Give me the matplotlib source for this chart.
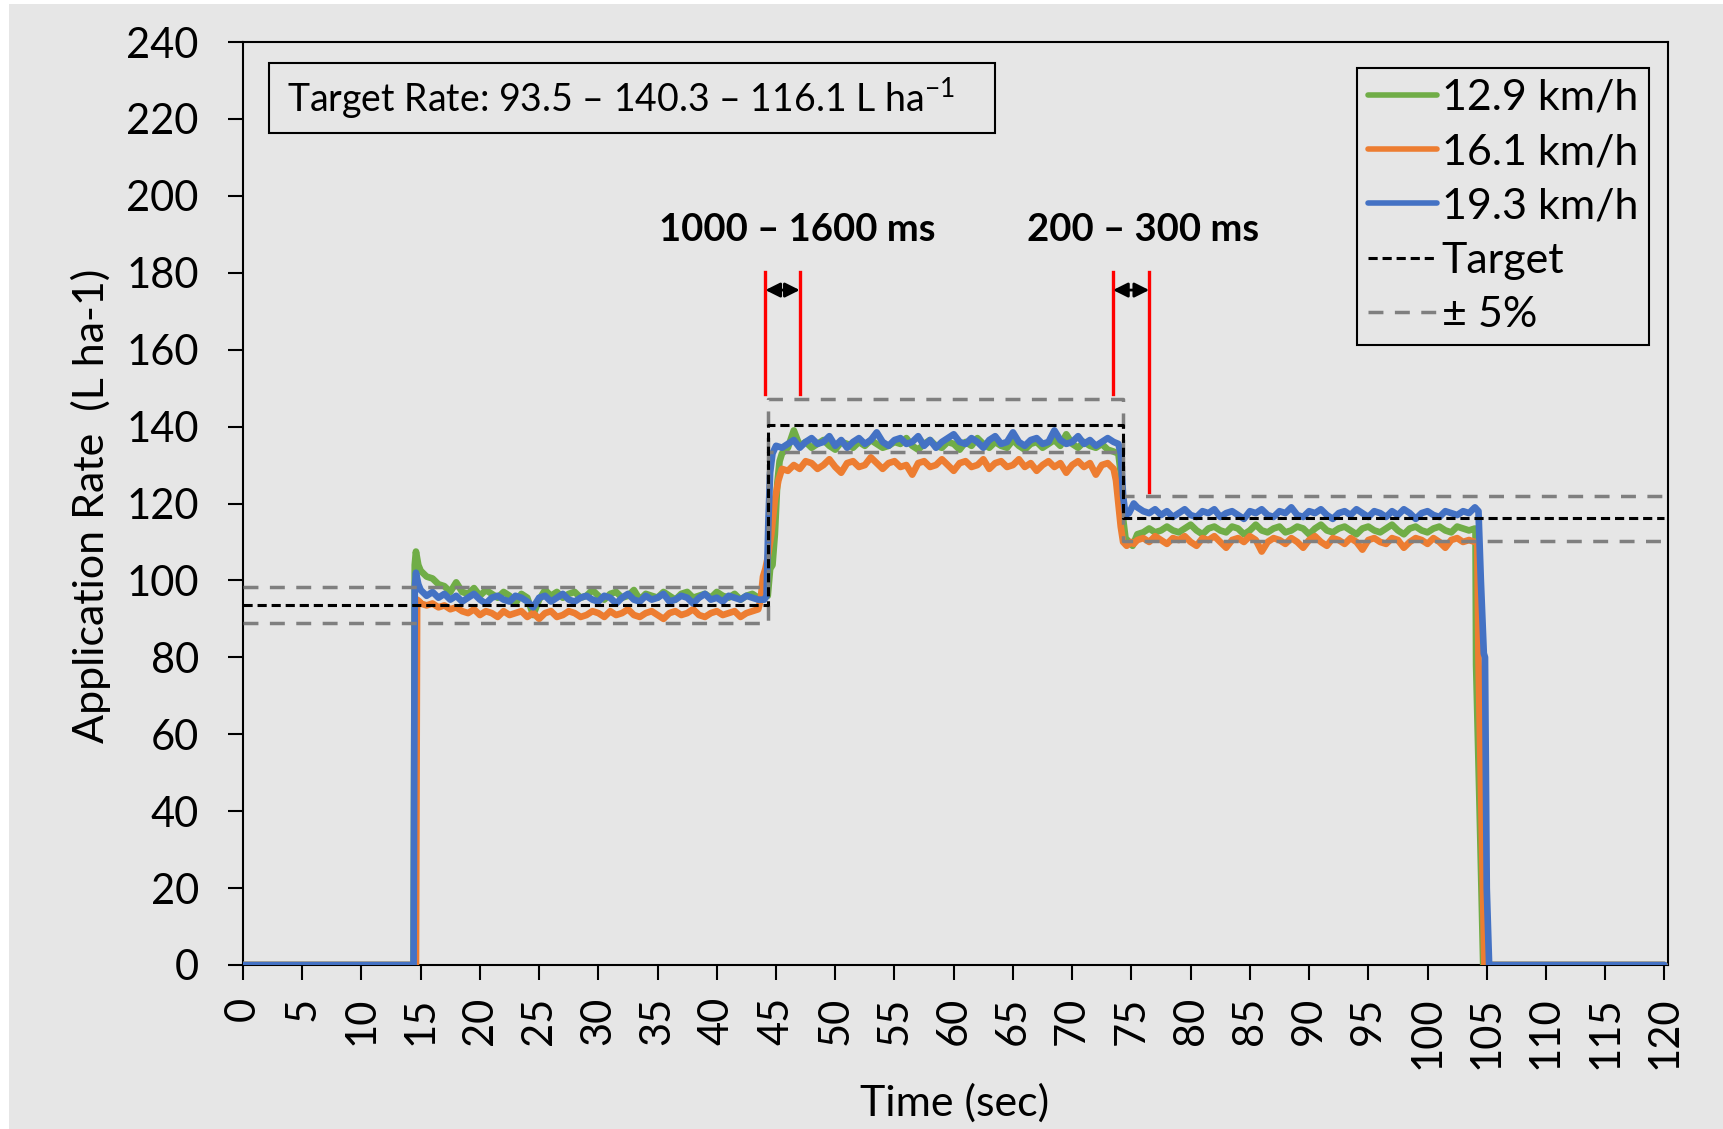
import matplotlib
matplotlib.use("Agg")
import matplotlib.pyplot as plt
from matplotlib.patches import Rectangle
import numpy as np

plt.rcParams['font.family'] = ['Lato', 'DejaVu Sans']
plt.rcParams['mathtext.fontset'] = 'custom'
plt.rcParams['mathtext.rm'] = 'Lato'
plt.rcParams['mathtext.it'] = 'Lato'

# ---------------- data ----------------
series_labels = ['12.9 km/h', '16.1 km/h', '19.3 km/h']
series_colors = ['#70AD47', '#ED7D31', '#4472C4']

# plateau sample times (0.5 s logging)
p1_t = np.arange(15.0, 44.0, 0.5)
p2_t = np.arange(46.0, 74.0, 0.5)
p3_t = np.arange(75.5, 104.5, 0.5)

# 12.9 km/h
green_start = [(0, 0), (14.4, 0), (14.5, 104), (14.6, 107.5), (14.8, 104)]
green_p1 = [102.5, 101.0, 100.5, 99.0, 98.5, 97.0, 99.5, 97.0, 96.5, 98.0,
            96.0, 97.5, 96.5, 95.5, 97.0, 96.0, 94.0, 96.5, 95.5, 91.0,
            95.0, 97.5, 96.0, 97.0, 95.5, 96.5, 97.0, 95.5, 96.0, 97.5,
            96.0, 95.0, 96.5, 97.0, 95.5, 96.0, 97.5, 95.0, 96.5, 96.0,
            95.5, 97.0, 96.0, 95.0, 96.5, 97.0, 95.5, 96.0, 96.5, 95.5,
            97.0, 96.0, 95.5, 96.5, 95.0, 96.0, 96.5, 95.5]
green_rise = [(44.0, 95.5), (44.3, 96), (44.5, 103), (44.7, 104), (44.9, 112),
              (45.1, 125), (45.3, 131), (45.5, 133)]
green_p2 = [134.5, 139.0, 135.0, 136.0, 134.5, 135.5, 136.5, 135.0, 134.0, 136.0,
            135.5, 134.5, 136.0, 135.0, 136.5, 135.5, 134.5, 135.0, 136.0, 135.5,
            137.0, 135.0, 134.0, 135.5, 136.5, 135.0, 134.5, 136.0, 135.5, 134.0,
            136.0, 135.0, 137.0, 135.5, 134.5, 136.0, 135.0, 134.5, 136.5, 135.0,
            134.0, 135.5, 136.0, 134.5, 135.5, 136.5, 135.0, 138.0, 135.5, 134.5,
            136.0, 135.0, 134.5, 135.5, 134.0, 133.5]
green_fall = [(73.9, 133), (74.1, 128), (74.3, 116), (74.5, 111), (74.8, 110),
              (75.1, 109), (75.3, 110.5)]
green_p3 = [112.0, 112.5, 113.5, 112.5, 113.0, 114.0, 113.0, 112.5, 113.5, 114.5,
            113.0, 112.0, 113.5, 114.0, 113.0, 112.5, 114.0, 113.5, 112.0, 113.0,
            114.5, 113.0, 112.5, 113.5, 114.0, 112.5, 113.0, 114.0, 113.5, 112.0,
            113.5, 114.5, 113.0, 112.5, 113.5, 114.0, 113.0, 112.0, 113.5, 114.0,
            113.0, 112.5, 113.5, 114.5, 113.0, 112.0, 113.5, 114.0, 113.0, 112.5,
            113.5, 114.0, 113.0, 112.5, 114.0, 113.5, 113.0, 113.5]
green_end = [(104.05, 113), (104.1, 78), (104.4, 40), (104.7, 0), (120, 0)]

# 16.1 km/h
orange_start = [(0, 0), (14.6, 0), (14.7, 95), (14.9, 94.5)]
orange_p1 = [94.0, 93.5, 94.0, 93.0, 93.5, 92.5, 93.0, 92.0, 91.5, 92.5,
             91.0, 92.0, 91.5, 90.5, 92.0, 91.0, 91.5, 92.0, 90.5, 91.5,
             90.0, 91.5, 92.0, 90.5, 91.0, 92.0, 91.5, 90.5, 91.0, 92.0,
             91.5, 90.5, 92.0, 91.0, 91.5, 92.5, 91.0, 90.5, 91.5, 92.0,
             91.0, 90.0, 91.5, 92.0, 91.0, 91.5, 92.5, 91.0, 90.5, 91.5,
             92.0, 91.0, 91.5, 92.0, 90.5, 91.5, 92.0, 92.5]
orange_rise = [(43.7, 95), (43.9, 101), (44.1, 103), (44.3, 106), (44.6, 112),
               (44.9, 121), (45.2, 126), (45.5, 129)]
orange_p2 = [128.5, 130.0, 129.0, 131.0, 130.5, 129.0, 130.0, 131.5, 129.5, 128.0,
             130.5, 131.0, 129.5, 130.0, 132.0, 130.5, 129.0, 130.5, 131.0, 129.5,
             130.0, 127.5, 130.5, 131.0, 129.5, 130.0, 131.5, 130.0, 128.5, 130.5,
             131.0, 129.5, 130.0, 131.5, 129.0, 130.5, 131.0, 129.5, 130.0, 131.5,
             129.5, 130.5, 128.5, 130.0, 131.0, 129.5, 130.5, 128.0, 130.0, 131.0,
             129.5, 130.5, 127.5, 130.0, 130.5, 129.0]
orange_fall = [(73.7, 126), (73.9, 120), (74.1, 114), (74.3, 110), (74.6, 109),
               (75.0, 110), (75.2, 109.5)]
orange_p3 = [110.5, 111.0, 110.0, 111.5, 110.5, 109.5, 111.0, 110.5, 111.5, 110.0,
             109.0, 111.0, 110.5, 111.5, 110.0, 108.5, 110.5, 111.0, 110.0, 111.5,
             110.5, 107.5, 110.0, 111.0, 110.5, 109.5, 111.0, 110.0, 108.5, 110.5,
             111.5, 110.0, 109.0, 111.0, 110.5, 109.5, 111.0, 110.0, 108.0, 110.5,
             111.0, 110.0, 109.5, 111.0, 110.5, 108.5, 110.0, 111.0, 110.5, 109.5,
             111.0, 110.0, 108.5, 110.5, 111.0, 110.0, 110.5, 110.0]
orange_end = [(104.2, 110), (104.3, 80), (104.8, 0), (120, 0)]

# 19.3 km/h
blue_start = [(0, 0), (14.4, 0), (14.5, 98), (14.6, 102), (14.8, 99)]
blue_p1 = [97.5, 96.0, 97.0, 95.5, 96.5, 95.0, 96.0, 94.5, 95.5, 96.5,
           95.0, 94.0, 95.5, 96.0, 95.0, 94.5, 96.0, 95.5, 94.5, 93.0,
           95.5, 96.0, 94.5, 95.5, 96.5, 95.0, 94.5, 95.5, 96.0, 95.0,
           94.5, 96.0, 95.5, 94.0, 95.5, 96.5, 95.0, 94.5, 96.0, 95.0,
           95.5, 96.5, 94.5, 95.0, 96.0, 95.5, 94.0, 95.5, 96.5, 95.0,
           95.5, 94.5, 96.0, 95.5, 95.0, 96.0, 95.5, 95.0]
blue_rise = [(44.0, 95), (44.2, 96), (44.35, 115), (44.5, 128), (44.7, 133),
             (45.0, 135), (45.5, 134.5)]
blue_p2 = [135.5, 136.5, 134.5, 136.0, 137.0, 135.5, 136.0, 137.5, 135.0, 136.5,
           134.5, 136.0, 137.0, 135.5, 136.5, 138.5, 136.0, 135.0, 136.5, 137.0,
           135.5, 136.0, 137.5, 135.0, 136.5, 134.5, 136.0, 137.0, 138.0, 136.0,
           135.5, 137.0, 136.0, 134.5, 136.5, 137.5, 135.5, 136.0, 138.5, 136.0,
           135.0, 136.5, 137.0, 135.5, 136.0, 139.0, 136.5, 135.5, 136.0, 137.5,
           135.5, 136.5, 135.0, 136.0, 137.0, 136.0]
blue_fall = [(73.9, 135.5), (74.1, 133), (74.3, 122), (74.5, 117), (74.8, 117.5),
             (75.2, 120)]
blue_p3 = [119.0, 118.0, 117.5, 118.5, 117.0, 118.0, 116.5, 117.5, 118.5, 117.0,
           116.5, 118.0, 117.5, 118.5, 116.5, 117.5, 118.0, 117.0, 116.0, 118.0,
           117.5, 118.5, 117.0, 116.5, 118.0, 117.5, 119.0, 117.0, 116.5, 118.0,
           117.5, 118.5, 117.0, 116.0, 117.5, 118.0, 117.0, 118.5, 117.5, 116.5,
           118.0, 117.5, 116.5, 118.0, 117.0, 118.5, 117.5, 116.0, 117.5, 118.0,
           117.0, 116.5, 118.0, 117.5, 117.0, 118.0, 117.5, 119.0]
blue_end = [(104.3, 118), (104.5, 100), (104.75, 81), (104.85, 80), (105.0, 20),
            (105.2, 0), (120, 0)]

# target and +/-5% band
target_t = [0, 44.3, 74.3, 120]
target_v = [93.5, 140.3, 116.1, 116.1]
upper_v = [98.2, 147.3, 121.9, 121.9]
lower_v = [88.8, 133.3, 110.3, 110.3]

# response-time markers
marker_t = [44.1, 47.0, 73.45, 76.5]
marker_bottom = [148.5, 148.5, 148.5, 123.1]
marker_top = 180.3
arrow_y = 175.5
delay_labels = ['1000 \u2013 1600 ms', '200 \u2013 300 ms']
delay_label_x = [46.8, 76.0]
delay_label_y = 191.0

xticks = np.arange(0, 121, 5)
yticks = np.arange(0, 241, 20)


def build(start, p1, rise, p2, fall, p3, end):
    t = ([a for a, _ in start] + list(p1_t) + [a for a, _ in rise] + list(p2_t)
         + [a for a, _ in fall] + list(p3_t) + [a for a, _ in end])
    v = ([b for _, b in start] + p1 + [b for _, b in rise] + p2
         + [b for _, b in fall] + p3 + [b for _, b in end])
    return t, v


series = [
    build(green_start, green_p1, green_rise, green_p2, green_fall, green_p3, green_end),
    build(orange_start, orange_p1, orange_rise, orange_p2, orange_fall, orange_p3, orange_end),
    build(blue_start, blue_p1, blue_rise, blue_p2, blue_fall, blue_p3, blue_end),
]

# ---------------- figure ----------------
bg = '#E6E6E6'
fig = plt.figure(figsize=(17.24, 11.29), dpi=100)
fig.patch.set_facecolor('white')
fig.patches.append(Rectangle((9 / 1724, 0), 1, 1 - 4 / 1129, transform=fig.transFigure,
                             facecolor=bg, edgecolor='none', zorder=-10))

ax = fig.add_axes([243 / 1724, 1 - 965 / 1129, 1425 / 1724, 923 / 1129])
ax.set_facecolor(bg)

handles = []
for (t, v), lab, col in zip(series, series_labels, series_colors):
    h, = ax.plot(t, v, color=col, lw=4.8, label=lab, solid_joinstyle='round',
                 solid_capstyle='round', zorder=3)
    handles.append(h)

h_tgt, = ax.step(target_t, target_v, where='post', color='black', lw=2.2,
                 dashes=(3.0, 1.6), label='Target', zorder=5)
h_band, = ax.step(target_t, upper_v, where='post', color='#7F7F7F', lw=2.5,
                  dashes=(4.3, 3.3), label='\u00b1 5%', zorder=4)
ax.step(target_t, lower_v, where='post', color='#7F7F7F', lw=2.5,
        dashes=(4.3, 3.3), zorder=4)

# red markers and arrows
for xm, yb in zip(marker_t, marker_bottom):
    ax.plot([xm, xm], [yb, marker_top], color='#FF0000', lw=2.4, zorder=6)
for i in (0, 2):
    ax.annotate('', xy=(marker_t[i + 1], arrow_y), xytext=(marker_t[i], arrow_y),
                arrowprops=dict(arrowstyle='<|-|>', color='black', lw=2,
                                mutation_scale=22, shrinkA=0, shrinkB=0), zorder=7)
for lab, xl in zip(delay_labels, delay_label_x):
    ax.text(xl, delay_label_y, lab, ha='center', va='center', fontsize=27.5,
            fontweight='bold')

# target rate box
ax.add_patch(Rectangle((0.01825, 0.9014), 0.5095, 0.0759, transform=ax.transAxes,
                       facecolor='none', edgecolor='black', lw=1.5, zorder=8))
ax.text(0.031, 0.9393, 'Target Rate: 93.5 \u2013 140.3 \u2013 116.1 L ha$^{-1}$',
        transform=ax.transAxes, ha='left', va='center', fontsize=27, zorder=9)

ax.set_xlim(0, 120.3)
ax.set_ylim(0, 240)
ax.set_xticks(xticks)
ax.set_yticks(yticks)
ax.set_xticklabels([str(x) for x in xticks], rotation=90)
ax.tick_params(axis='both', direction='out', length=10.8, width=1.5, labelsize=30)
ax.tick_params(axis='y', pad=21)
ax.tick_params(axis='x', pad=12)
for s in ax.spines.values():
    s.set_linewidth(1.5)
    s.set_color('black')

leg = ax.legend(handles=handles + [h_tgt, h_band], loc='upper right',
                bbox_to_anchor=(0.9867, 0.9718), borderaxespad=0, fontsize=31,
                frameon=True, fancybox=False, edgecolor='black', facecolor=bg,
                framealpha=1, handlelength=1.6, handletextpad=0.12,
                labelspacing=0.38, borderpad=0.25)
leg.get_frame().set_linewidth(1.5)
for lh in leg.get_lines()[:3]:
    lh.set_linewidth(4)

fig.text(91 / 1724, 1 - 506 / 1129, 'Application Rate  (L ha-1)', rotation=90,
         ha='center', va='center', fontsize=31)
fig.text(955 / 1724, 1 - 1103 / 1129, 'Time (sec)', ha='center', va='center',
         fontsize=31)

fig.savefig('out.png', dpi=100, facecolor=fig.get_facecolor())
